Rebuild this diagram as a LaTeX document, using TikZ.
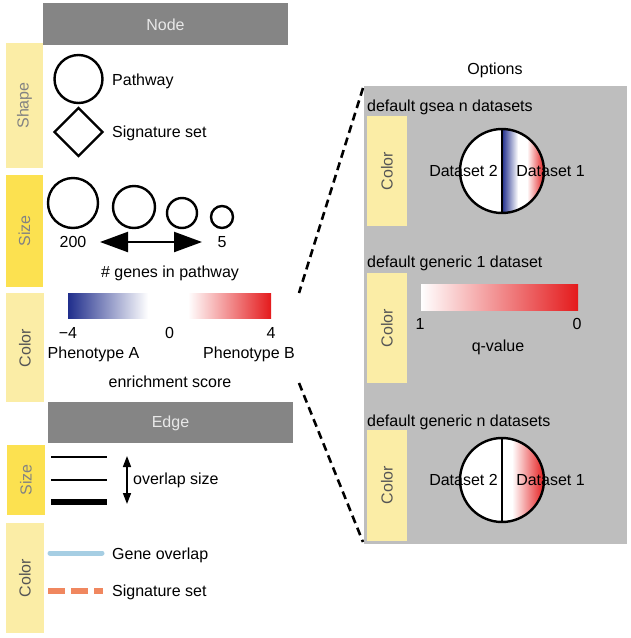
\documentclass[tikz,border=0pt]{standalone}
\usepackage{fontspec}
\setmainfont{Liberation Sans}
\usetikzlibrary{shapes.geometric,arrows.meta}
\definecolor{hdr}{RGB}{133,133,133}
\definecolor{hdrtxt}{RGB}{232,232,232}
\definecolor{ypale}{RGB}{251,237,166}
\definecolor{ybright}{RGB}{252,225,80}
\definecolor{panel}{RGB}{190,190,190}
\definecolor{dblue}{RGB}{32,46,140}
\definecolor{dred}{RGB}{228,26,28}
\definecolor{lblue}{RGB}{166,206,227}
\definecolor{orng}{RGB}{240,135,95}
\definecolor{lbl}{RGB}{130,130,130}
\definecolor{lbldark}{RGB}{85,85,85}
\begin{document}
\begin{tikzpicture}[x=1pt,y=-1pt, font=\fontsize{16}{19}\selectfont,
  hdrlabel/.style={text=hdrtxt, inner sep=0, anchor=base},
  sidelabel/.style={rotate=90, inner sep=0, text=lbl},
  sidelabeldark/.style={rotate=90, inner sep=0, text=lbldark},
  txt/.style={inner sep=0, anchor=base west},
  ctxt/.style={inner sep=0, anchor=base},
  ring/.style={circle, draw, line width=2.4pt, inner sep=0},
  linkline/.style={line width=2.6pt, dash pattern=on 8pt off 5pt},
]
\useasboundingbox (0,0) rectangle (630,638);

% ---------- Node section ----------
\fill[hdr] (43,3) rectangle (288,45);
\node[hdrlabel] (nodehdr) at (165.5,30) {Node};

\fill[ypale] (6,43) rectangle (43,168);
\node[sidelabel] (shapelbl) at (24.5,105.5) {Shape};
\node[ring, minimum size=48] (pw) at (78.5,79) {};
\node[txt] (pwt) at (112,85) {Pathway};
\node[diamond, draw, line width=2.4pt, inner sep=0, minimum size=49] (sig) at (78.5,132) {};
\node[txt] (sigt) at (112,137) {Signature set};

\fill[ybright] (6,175) rectangle (43,287);
\node[sidelabel] (sizelbl) at (24.5,231) {Size};
\node[ring, minimum size=50] (s1) at (73,203) {};
\node[ring, minimum size=42] (s2) at (134,207) {};
\node[ring, minimum size=30] (s3) at (182,213) {};
\node[ring, minimum size=22] (s4) at (222,217) {};
\node[ctxt] (n200) at (73,247) {200};
\node[ctxt] (n5) at (222,247) {5};
\coordinate (arL) at (100,242);
\coordinate (arR) at (202,242);
\draw[line width=2.2pt, {Triangle[length=28pt,width=20pt]}-{Triangle[length=28pt,width=20pt]}] (arL) -- (arR);
\node[ctxt] (genes) at (170,277) {\# genes in pathway};

\fill[ypale] (6,293) rectangle (44,402);
\node[sidelabeldark] (colorlbl) at (25,348) {Color};
\shade[left color=dblue, right color=white] (68,293) rectangle (148,318);
\shade[left color=white, right color=dred] (188,293) rectangle (271,318);
\node[ctxt] (m4) at (68,338) {−4};
\node[ctxt] (z0) at (169.5,338) {0};
\node[ctxt] (p4) at (271,338) {4};
\node[ctxt] (phA) at (93.5,358) {Phenotype A};
\node[ctxt] (phB) at (249,358) {Phenotype B};
\node[ctxt] (es) at (170,387) {enrichment score};

% ---------- Edge section ----------
\fill[hdr] (48,402) rectangle (293,443);
\node[hdrlabel] (edgehdr) at (170.5,427) {Edge};

\fill[ybright] (7,445) rectangle (45,515);
\node[sidelabel] (esizelbl) at (26,480) {Size};
\coordinate (l1a) at (51,457); \coordinate (l1b) at (107,457);
\coordinate (l2a) at (51,480); \coordinate (l2b) at (107,480);
\coordinate (l3a) at (51,502); \coordinate (l3b) at (107,502);
\draw[line width=1.3pt] (l1a) -- (l1b);
\draw[line width=2.7pt] (l2a) -- (l2b);
\draw[line width=5.3pt] (l3a) -- (l3b);
\coordinate (vaT) at (127,456);
\coordinate (vaB) at (127,504);
\draw[line width=1.6pt, {Triangle[length=11pt,width=8pt]}-{Triangle[length=11pt,width=8pt]}] (vaT) -- (vaB);
\node[txt] (ovl) at (133,484) {overlap size};

\fill[ypale] (6,523) rectangle (44,633);
\node[sidelabeldark] (ecolorlbl) at (25,578) {Color};
\coordinate (g1) at (50,553); \coordinate (g2) at (102,553);
\draw[lblue, line width=5pt, line cap=round] (g1) -- (g2);
\node[txt] (got) at (112,559) {Gene overlap};
\coordinate (o1) at (48,591); \coordinate (o2) at (103,591);
\draw[orng, line width=5.5pt, dash pattern=on 17pt off 6pt] (o1) -- (o2);
\node[txt] (sst) at (112,596) {Signature set};

% ---------- Options panel ----------
\node[ctxt] (opt) at (495,74) {Options};
\fill[panel] (364,86) rectangle (627,544);

% option 1
\node[txt] (o1t) at (367,111) {default gsea n datasets};
\fill[ypale] (367,116) rectangle (407,226);
\node[sidelabeldark] (oc1) at (387,171) {Color};
\begin{scope}
  \clip (502,171) circle (42pt);
  \fill[white] (458,127) rectangle (546,215);
  \shade[left color=dblue, right color=white] (502,127) rectangle (518,215);
  \shade[left color=white, right color=dred] (527,127) rectangle (544.5,215);
\end{scope}
\coordinate (c1t) at (502,129);
\coordinate (c1b) at (502,213);
\draw[line width=2.4pt] (c1t) -- (c1b);
\node[ring, minimum size=84] (cc1) at (502,171) {};
\node[ctxt] (d2a) at (463.5,176) {Dataset 2};
\node[ctxt] (d1a) at (550.5,176) {Dataset 1};

% option 2
\node[txt] (o2t) at (367,267) {default generic 1 dataset};
\fill[ypale] (367,273) rectangle (407,383);
\node[sidelabeldark] (oc2) at (387,328) {Color};
\shade[left color=white, right color=dred] (421,284) rectangle (578,310);
\node[ctxt] (q1) at (420,329) {1};
\node[ctxt] (q0) at (577,329) {0};
\node[ctxt] (qv) at (498,351) {q-value};

% option 3
\node[txt] (o3t) at (367,426) {default generic n datasets};
\fill[ypale] (367,430) rectangle (407,541);
\node[sidelabeldark] (oc3) at (387,485) {Color};
\begin{scope}
  \clip (502,480) circle (42pt);
  \fill[white] (458,436) rectangle (546,524);
  \shade[left color=white, right color=dred] (512,436) rectangle (544.5,524);
\end{scope}
\coordinate (c3t) at (502,438);
\coordinate (c3b) at (502,522);
\draw[line width=2.4pt] (c3t) -- (c3b);
\node[ring, minimum size=84] (cc3) at (502,480) {};
\node[ctxt] (d2b) at (463.5,485) {Dataset 2};
\node[ctxt] (d1b) at (550.5,485) {Dataset 1};

% ---------- dashed links ----------
\coordinate (dA) at (363,88);
\coordinate (dB) at (299,293);
\coordinate (dC) at (299,383);
\coordinate (dD) at (363,542);
\draw[linkline] (dA) -- (dB);
\draw[linkline] (dC) -- (dD);
\end{tikzpicture}
\end{document}
